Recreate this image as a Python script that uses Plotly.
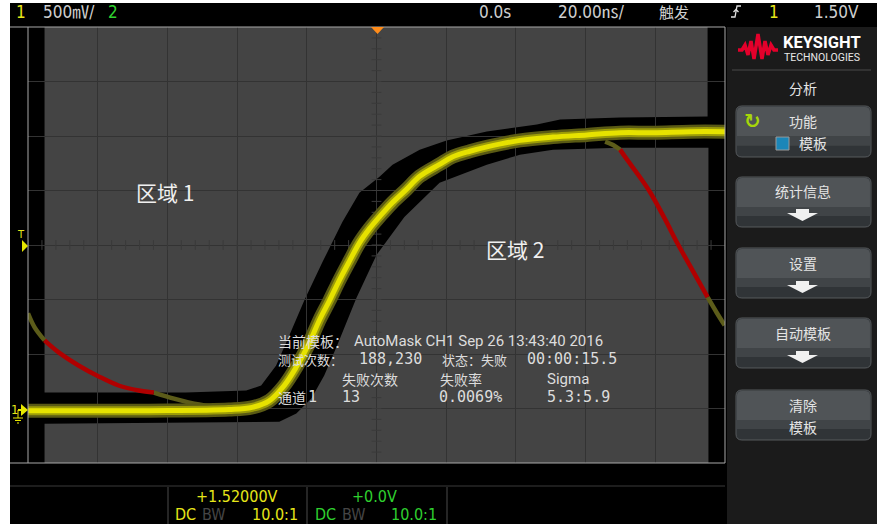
import plotly.graph_objects as go

# ---------------- data (time in ns, voltage in V) ----------------
trace_t = [-100, -65.3, -42.3, -35.7, -30.8, -26.5, -23.0, -19.3, -16.4, -13.5, -10.6, -7.8, -4.9,
           -2.0, 0.9, 4.6, 8.6, 12.4, 18.1, 21.9, 26.8, 31.7, 41.2, 50.6, 60.4, 69.9, 79.4, 90.1, 100]
trace_v = [0.0, 0.0, 0.01, 0.03, 0.09, 0.23, 0.40, 0.62, 0.83, 1.01, 1.20, 1.37, 1.54,
           1.67, 1.78, 1.91, 2.03, 2.15, 2.26, 2.33, 2.38, 2.42, 2.48, 2.51, 2.53, 2.55, 2.55, 2.56, 2.56]

mask1_t = [-95.25, -95.25, -54.7, -37.4, -33.1, -28.8, -25.0, -20.7, -15.5, -9.8, -4.9, 0.86,
           4.6, 12.4, 20.1, 31.65, 46.0, 52.7, 69.9, 95.0, 95.0]
mask1_v = [3.52, 0.166, 0.166, 0.185, 0.231, 0.415, 0.691, 1.014, 1.363, 1.732, 1.999, 2.146,
           2.257, 2.395, 2.478, 2.561, 2.625, 2.671, 2.689, 2.699, 3.52]

mask2_t = [-95.25, -95.25, -27.9, -23.0, -18.7, -15.0, -11.3, -5.8, 0.0, 8.0, 18.1, 31.65,
           41.15, 50.65, 69.9, 95.25, 95.25]
mask2_v = [-0.48, -0.119, -0.101, -0.027, 0.111, 0.323, 0.599, 1.032, 1.428, 1.778, 2.091, 2.257,
           2.349, 2.395, 2.413, 2.413, -0.48]

fail1_pre_t = [-100, -98.1, -95.25]
fail1_pre_v = [0.894, 0.765, 0.645]
fail1_t = [-95.25, -91.2, -85.5, -79.7, -74.0, -68.2, -63.9]
fail1_v = [0.645, 0.535, 0.415, 0.314, 0.231, 0.185, 0.166]
fail1_post_t = [-63.9, -58.1, -50.9, -42.3]
fail1_post_v = [0.166, 0.111, 0.056, 0.019]

fail2_pre_t = [65.6, 67.6, 69.9]
fail2_pre_v = [2.468, 2.441, 2.395]
fail2_t = [69.9, 71.9, 75.7, 78.6, 82.9, 86.3, 90.65, 95.0]
fail2_v = [2.395, 2.303, 2.137, 1.999, 1.750, 1.538, 1.290, 1.041]
fail2_post_t = [95.0, 97.55, 99.9]
fail2_post_v = [1.041, 0.903, 0.783]

time_per_div = 20.0
volt_per_div = 0.5
offset_v = 1.52

# ---------------- geometry helpers ----------------
W, H = 877, 524
L, R, T, B = 28, 725, 27, 463


def px(x):
    return (x - L) / (R - L)


def py(y):
    return (B - y) / (B - T)


def ppath(points, close=True):
    s = "M " + " L ".join(f"{px(x):.5f},{py(y):.5f}" for x, y in points)
    return s + (" Z" if close else "")


def data_path(xs, ys):
    return "M " + " L ".join(f"{x},{y}" for x, y in zip(xs, ys)) + " Z"


def rrect(x0, y0, x1, y1, r, flat_bottom=False):
    P = lambda x, y: f"{px(x):.5f},{py(y):.5f}"
    s = f"M {P(x0 + r, y0)} L {P(x1 - r, y0)} Q {P(x1, y0)} {P(x1, y0 + r)} "
    if flat_bottom:
        s += f"L {P(x1, y1)} L {P(x0, y1)} "
    else:
        s += f"L {P(x1, y1 - r)} Q {P(x1, y1)} {P(x1 - r, y1)} L {P(x0 + r, y1)} Q {P(x0, y1)} {P(x0, y1 - r)} "
    s += f"L {P(x0, y0 + r)} Q {P(x0, y0)} {P(x0 + r, y0)} Z"
    return s


fig = go.Figure()

shapes = []
annos = []

# background frame
shapes.append(dict(type="rect", xref="paper", yref="paper", x0=px(10), x1=px(877), y0=py(524), y1=py(3),
                   fillcolor="black", line=dict(width=0), layer="below"))
# right panel
shapes.append(dict(type="rect", xref="paper", yref="paper", x0=px(727), x1=px(877), y0=py(524), y1=py(27),
                   fillcolor="#1b1b1b", line=dict(width=0), layer="below"))

# masks
shapes.append(dict(type="path", xref="x", yref="y", path=data_path(mask1_t, mask1_v),
                   fillcolor="#444444", line=dict(width=0), layer="below"))
shapes.append(dict(type="path", xref="x", yref="y", path=data_path(mask2_t, mask2_v),
                   fillcolor="#444444", line=dict(width=0), layer="below"))

# frame lines
for (xa, ya, xb, yb) in [(10, 27, 725, 27), (10, 463, 725, 463), (28, 27, 28, 463), (725, 27, 725, 463)]:
    shapes.append(dict(type="line", xref="paper", yref="paper", x0=px(xa), y0=py(ya), x1=px(xb), y1=py(yb),
                       line=dict(color="#a8a8a8", width=1)))
# bottom separator lines
shapes.append(dict(type="line", xref="paper", yref="paper", x0=px(10), y0=py(486), x1=px(725), y1=py(486),
                   line=dict(color="#3a3a3a", width=1)))
for xv in [168, 307, 447]:
    shapes.append(dict(type="line", xref="paper", yref="paper", x0=px(xv), y0=py(487), x1=px(xv), y1=py(524),
                       line=dict(color="#4a4a4a", width=1)))

# trigger marker (orange)
shapes.append(dict(type="path", xref="paper", yref="paper", path=ppath([(371, 27), (384, 27), (377.5, 34)]),
                   fillcolor="#ff8c1a", line=dict(width=0)))
# T marker
shapes.append(dict(type="path", xref="paper", yref="paper", path=ppath([(22, 240), (28, 246), (22, 252)]),
                   fillcolor="#e8e800", line=dict(width=0)))
# ch1 ground marker
shapes.append(dict(type="path", xref="paper", yref="paper", path=ppath([(21, 404), (28, 410), (21, 416)]),
                   fillcolor="#e8e800", line=dict(width=0)))
shapes.append(dict(type="path", xref="paper", yref="paper", path=ppath([(18, 410), (21, 410)], close=False),
                   line=dict(color="#e8e800", width=2)))
shapes.append(dict(type="path", xref="paper", yref="paper", path=ppath([(18, 410), (18, 418)], close=False),
                   line=dict(color="#e8e800", width=1)))
for (a, b, yy) in [(13, 23, 418), (15, 21, 420.5), (17, 19, 423)]:
    shapes.append(dict(type="line", xref="paper", yref="paper", x0=px(a), x1=px(b), y0=py(yy), y1=py(yy),
                       line=dict(color="#e8e800", width=1)))

# trigger slope icon
shapes.append(dict(type="path", xref="paper", yref="paper",
                   path=ppath([(731, 17), (735, 17), (737, 6), (741, 6)], close=False),
                   line=dict(color="#e0e0e0", width=1.3)))
shapes.append(dict(type="path", xref="paper", yref="paper",
                   path=ppath([(733.5, 12), (736, 9.5), (738.5, 12)], close=False),
                   line=dict(color="#e0e0e0", width=1.3)))

# Keysight logo
logo = [(738, 50), (742, 50), (745, 45), (748, 55), (751, 41), (754, 59), (758, 34), (762, 59), (765, 41),
        (768, 55), (771, 45), (774, 50), (778, 50)]
shapes.append(dict(type="path", xref="paper", yref="paper", path=ppath(logo, close=False),
                   line=dict(color="#e4002b", width=3.5)))
shapes.append(dict(type="line", xref="paper", yref="paper", x0=px(732), x1=px(871), y0=py(70), y1=py(70),
                   line=dict(color="#4a4a4a", width=1)))

# buttons
buttons = [(106, 157), (177, 227), (248, 298), (318, 368), (390, 440)]
for (y0, y1) in buttons:
    shapes.append(dict(type="path", xref="paper", yref="paper", path=rrect(736, y0, 871, y1, 6),
                       fillcolor="#303437", line=dict(color="#565a5d", width=1)))
    shapes.append(dict(type="path", xref="paper", yref="paper",
                       path=rrect(737, y0 + 1, 870, y0 + (y1 - y0) * 0.6, 5, flat_bottom=True),
                       fillcolor="#505457", line=dict(width=0)))
    shapes.append(dict(type="rect", xref="paper", yref="paper", x0=px(737), x1=px(870),
                       y0=py(y0 + (y1 - y0) * 0.78), y1=py(y0 + (y1 - y0) * 0.6),
                       fillcolor="#404447", line=dict(width=0)))

# arrows
for ya in [209, 281, 351]:
    shapes.append(dict(type="path", xref="paper", yref="paper",
                       path=ppath([(796, ya), (809, ya), (809, ya + 4), (818, ya + 4), (802.5, ya + 12),
                                   (787, ya + 4), (796, ya + 4)]),
                       fillcolor="#f0f0f0", line=dict(width=0)))
# checkbox
shapes.append(dict(type="rect", xref="paper", yref="paper", x0=px(776), x1=px(789), y0=py(150), y1=py(137),
                   fillcolor="#1b86b8", line=dict(color="#9a9a9a", width=1)))

# ---------------- traces ----------------
tick_x = [-100 + i * time_per_div / 5 for i in range(51)]
tick_y = [offset_v - 4 * volt_per_div + i * volt_per_div / 5 for i in range(41)]
fig.add_trace(go.Scatter(x=tick_x, y=[offset_v] * len(tick_x), mode="markers", hoverinfo="skip",
                         marker=dict(symbol="line-ns-open", size=7, color="#3a3a3a",
                                     line=dict(color="#3a3a3a", width=1))))
fig.add_trace(go.Scatter(x=[0] * len(tick_y), y=tick_y, mode="markers", hoverinfo="skip",
                         marker=dict(symbol="line-ew-open", size=7, color="#3a3a3a",
                                     line=dict(color="#3a3a3a", width=1))))

olive = "#5c5c1a"
for xs, ys, c in [(fail1_pre_t, fail1_pre_v, olive), (fail1_post_t, fail1_post_v, olive),
                  (fail2_pre_t, fail2_pre_v, olive), (fail2_post_t, fail2_post_v, olive),
                  (fail1_t, fail1_v, "#b00000"), (fail2_t, fail2_v, "#b00000")]:
    fig.add_trace(go.Scatter(x=xs, y=ys, mode="lines", line=dict(color=c, width=4.5, shape="spline"),
                             hoverinfo="skip"))

fig.add_trace(go.Scatter(x=trace_t, y=trace_v, mode="lines", hoverinfo="skip",
                         line=dict(color="#5a5a14", width=14, shape="spline")))
fig.add_trace(go.Scatter(x=trace_t, y=trace_v, mode="lines", hoverinfo="skip",
                         line=dict(color="#9c9c08", width=9, shape="spline")))
fig.add_trace(go.Scatter(x=trace_t, y=trace_v, mode="lines", hoverinfo="skip",
                         line=dict(color="#e6e200", width=5, shape="spline")))

# ---------------- text ----------------
NARROW = "Liberation Sans Narrow, DejaVu Sans Condensed, Noto Sans CJK SC, sans-serif"
CJK = "Noto Sans CJK SC, sans-serif"
MONO = "DejaVu Sans Mono, Noto Sans CJK SC, monospace"
SANS = "Roboto, Noto Sans CJK SC, sans-serif"
YEL = "#e6e619"
GRN = "#2fd12f"
WHT = "#dcdcdc"


def txt(x, y, s, color=WHT, size=14, family=SANS, xanchor="left", bold=False):
    annos.append(dict(x=px(x), y=py(y), xref="paper", yref="paper", text=(f"<b>{s}</b>" if bold else s),
                      showarrow=False, xanchor=xanchor, yanchor="middle",
                      font=dict(color=color, size=size, family=family)))


# top bar
txt(14, 12, "1", YEL, 17, NARROW)
txt(41, 12, "500㎷/", "#cfcfcf", 17, NARROW)
txt(106, 12, "2", GRN, 17, NARROW)
txt(477, 12, "0.0s", "#cfcfcf", 17, NARROW)
txt(556, 12, "20.00㎱/", "#cfcfcf", 17, NARROW)
txt(657, 12, "触发", "#cfcfcf", 15, CJK)
txt(767, 12, "1", YEL, 17, NARROW)
txt(812, 12, "1.50V", "#cfcfcf", 17, NARROW)

# left markers
txt(21, 234, "T", YEL, 11, NARROW, xanchor="center")
txt(14, 409, "1", YEL, 13, NARROW, xanchor="center")

# zone labels
txt(134, 192, "区域 1", "#f0f0f0", 21, CJK)
txt(484, 249, "区域 2", "#f0f0f0", 21, CJK)

# stats
txt(276, 341, "当前模板：", WHT, 14, CJK)
txt(352, 341, "AutoMask CH1 Sep 26 13:43:40 2016", WHT, 15, SANS)
txt(276, 359, "测试次数：", WHT, 13, CJK)
txt(357, 359, "188,230", WHT, 15, MONO)
txt(440, 359, "状态：失败", WHT, 13, CJK)
txt(525, 359, "00:00:15.5", WHT, 15, MONO)
txt(340, 379, "失败次数", WHT, 14, CJK)
txt(438, 379, "失败率", WHT, 14, CJK)
txt(545, 379, "Sigma", WHT, 15, SANS)
txt(276, 397, "通道", WHT, 14, CJK)
txt(306, 397, "1", WHT, 15, MONO)
txt(340, 397, "13", WHT, 15, MONO)
txt(437, 397, "0.0069%", WHT, 15, MONO)
txt(545, 397, "5.3:5.9", WHT, 15, MONO)

# bottom channel info
txt(237, 496, "+1.52000V", YEL, 16, NARROW, xanchor="center")
txt(173, 514, "DC", YEL, 16, NARROW)
txt(200, 514, "BW", "#454545", 16, NARROW)
txt(300, 514, "10.0:1", YEL, 16, NARROW, xanchor="right")
txt(374, 496, "+0.0V", GRN, 16, NARROW, xanchor="center")
txt(313, 514, "DC", GRN, 16, NARROW)
txt(340, 514, "BW", "#454545", 16, NARROW)
txt(439, 514, "10.0:1", GRN, 16, NARROW, xanchor="right")

# right panel
txt(781, 42.5, "KEYSIGHT", "#ffffff", 16.5, "Roboto, sans-serif", bold=True)
txt(782, 58, "TECHNOLOGIES", "#e8e8e8", 10.5, "Roboto, sans-serif")
txt(803, 88, "分析", "#e4e4e4", 14, CJK, xanchor="center")
txt(752, 121, "↻", "#a6d60a", 20, "DejaVu Sans, sans-serif", xanchor="center", bold=True)
txt(803, 121, "功能", "#e4e4e4", 14, CJK, xanchor="center")
txt(813, 143, "模板", "#e4e4e4", 14, CJK, xanchor="center")
txt(803, 191, "统计信息", "#e4e4e4", 14, CJK, xanchor="center")
txt(803, 263, "设置", "#e4e4e4", 14, CJK, xanchor="center")
txt(803, 333, "自动模板", "#e4e4e4", 14, CJK, xanchor="center")
txt(803, 405, "清除", "#e4e4e4", 14, CJK, xanchor="center")
txt(803, 427, "模板", "#e4e4e4", 14, CJK, xanchor="center")

fig.update_layout(
    width=W, height=H,
    margin=dict(l=L, r=W - R, t=T, b=H - B, pad=0),
    paper_bgcolor="white", plot_bgcolor="black",
    showlegend=False,
    shapes=shapes, annotations=annos,
    xaxis=dict(range=[-5 * time_per_div, 5 * time_per_div], dtick=time_per_div, tick0=0,
               showgrid=True, gridcolor="#333333", gridwidth=1, zeroline=False,
               showticklabels=False, ticks="", showline=False, fixedrange=True),
    yaxis=dict(range=[offset_v - 4 * volt_per_div, offset_v + 4 * volt_per_div], dtick=volt_per_div,
               tick0=offset_v, showgrid=True, gridcolor="#333333", gridwidth=1, zeroline=False,
               showticklabels=False, ticks="", showline=False, fixedrange=True),
)

fig.write_html("out.html", config={"displayModeBar": False},
               post_script="document.body.style.margin='0px';document.body.style.overflow='hidden';")
